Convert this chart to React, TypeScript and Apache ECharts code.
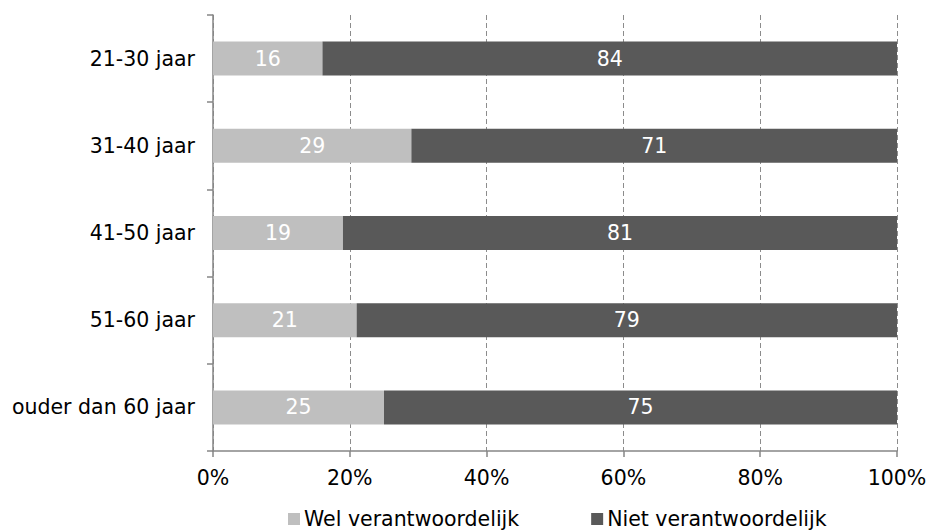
import React, { useEffect, useRef } from "react";
import * as echarts from "echarts";

const categories = ["ouder dan 60 jaar", "51-60 jaar", "41-50 jaar", "31-40 jaar", "21-30 jaar"];
const welValues = [25, 21, 19, 29, 16];
const nietValues = [75, 79, 81, 71, 84];
const seriesNames = ["Wel verantwoordelijk", "Niet verantwoordelijk"];
const xTicks = [0, 20, 40, 60, 80, 100];

const FONT = "DejaVu Sans";
const FS = 20.5;

export default function App() {
  const ref = useRef<HTMLDivElement>(null);
  useEffect(() => {
    if (!ref.current) return;
    const chart = echarts.init(ref.current, null, { renderer: "svg" });
    chart.setOption({
      animation: false,
      textStyle: { fontFamily: FONT },
      grid: { left: 213, right: 29, top: 15, bottom: 79, containLabel: false, outerBoundsMode: "none" },
      legend: {
        top: 508,
        left: 288,
        padding: 0,
        itemWidth: 12,
        itemHeight: 12,
        itemGap: 72,
        icon: "rect",
        textStyle: { fontSize: FS, lineHeight: 22, color: "#000", fontFamily: FONT, padding: [0, 0, 0, -1] },
        data: seriesNames,
      },
      xAxis: {
        type: "value",
        min: xTicks[0],
        max: xTicks[xTicks.length - 1],
        interval: 20,
        axisLine: { show: true, lineStyle: { color: "#868686", width: 1.5 } },
        axisTick: { show: true, length: 6, lineStyle: { color: "#868686", width: 1.5 } },
        axisLabel: { formatter: "{value}%", fontSize: FS, color: "#000", margin: 16, fontFamily: FONT },
        splitLine: { show: true, lineStyle: { color: "#8c8c8c", type: [5, 3], width: 1 } },
      },
      yAxis: {
        type: "category",
        data: categories,
        axisLine: { show: true, lineStyle: { color: "#868686", width: 1.5 } },
        axisTick: { show: true, length: 6, lineStyle: { color: "#868686", width: 1.5 } },
        axisLabel: { fontSize: FS, color: "#000", margin: 18, fontFamily: FONT },
      },
      series: [
        {
          name: seriesNames[0],
          type: "bar",
          stack: "total",
          data: welValues,
          barWidth: 34,
          itemStyle: { color: "#bfbfbf" },
          label: { show: true, position: "inside", color: "#fff", fontSize: FS, fontFamily: FONT },
        },
        {
          name: seriesNames[1],
          type: "bar",
          stack: "total",
          data: nietValues,
          barWidth: 34,
          itemStyle: { color: "#595959" },
          label: { show: true, position: "inside", color: "#fff", fontSize: FS, fontFamily: FONT },
        },
      ],
    });
    return () => chart.dispose();
  }, []);
  return <div ref={ref} style={{ width: 926, height: 530, position: "absolute", left: 0, top: 0 }} />;
}
